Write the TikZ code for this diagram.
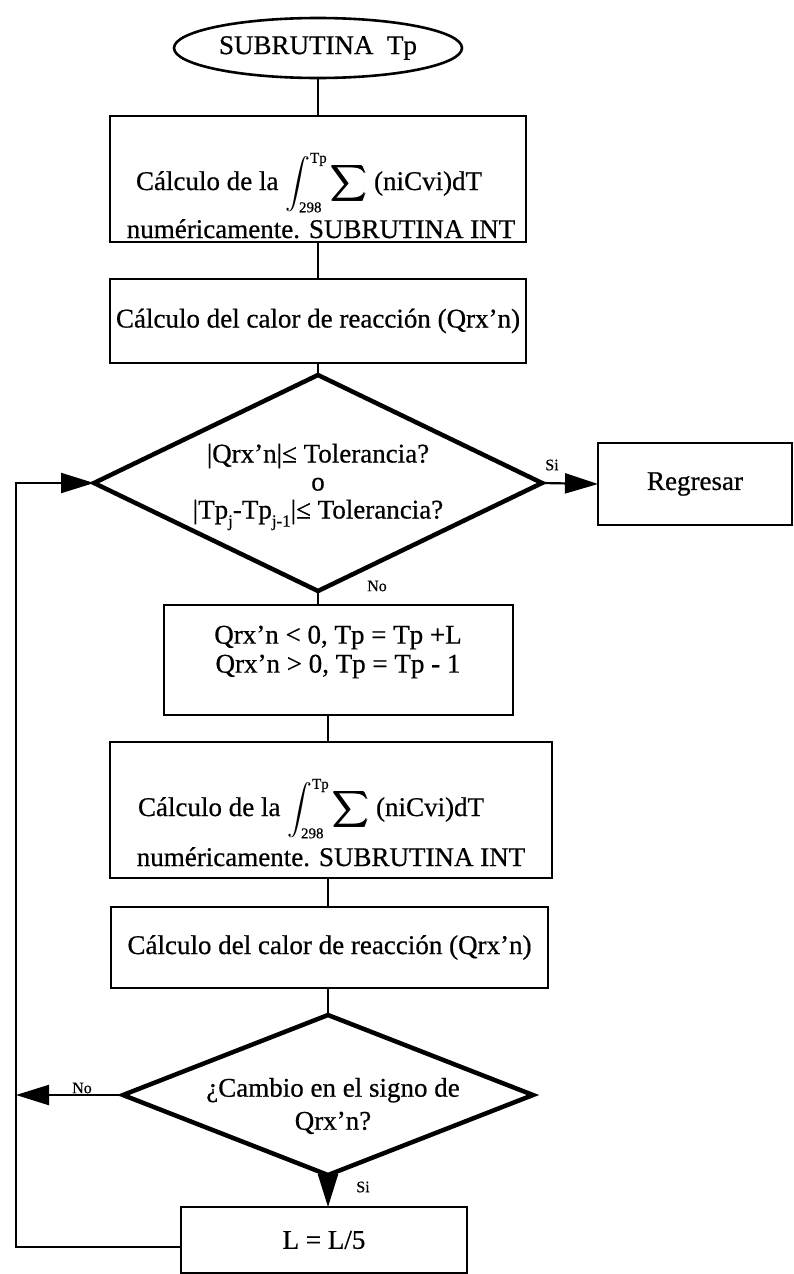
\documentclass[tikz,border=0pt]{standalone}
\usepackage{amsmath}
\usepackage{fontspec}
\setmainfont{Liberation Serif}[FakeBold=0.6]
\usetikzlibrary{shapes.geometric,arrows.meta}

% small text used for integral limits and subscripts
\newcommand\limtxt[1]{\text{\fontsize{15}{15}\selectfont #1}}
\newcommand\lowtxt[1]{\raisebox{-0.3em}{\fontsize{17}{17}\selectfont #1}}
% integral with summation, shared by both integration boxes
\newcommand\intsum{$\displaystyle\int_{\limtxt{298}}^{\limtxt{Tp}}\pmb{\sum}$}

\begin{document}
\begin{tikzpicture}[x=1pt,y=-1pt,
  every node/.style={font=\fontsize{27}{29}\selectfont, inner sep=0pt, outer sep=0pt},
  box/.style={draw, rectangle, line width=2.6pt},
  decision/.style={draw, diamond, line width=4.5pt},
  conn/.style={line width=2.2pt},
  arr/.style={conn, -{Triangle[length=33pt,width=20pt]}},
  lbl/.style={font=\fontsize{16}{16}\selectfont},
  txt/.style={align=center}
]
\fill[white] (0,0) rectangle (794,1274);
\useasboundingbox (0,0) rectangle (794,1274);

% start
\node[draw, ellipse, line width=2.6pt, minimum width=288pt, minimum height=60pt] (start) at (318,48) {SUBRUTINA~~Tp};

% first integral
\node[box, minimum width=416pt, minimum height=126pt] (b1) at (318,179) {};
\node[anchor=base west] (b1a) at (136,190) {Cálculo de la \intsum{} (niCvi)dT};
\node[anchor=base] (b1b) at (321,238) {numéricamente. SUBRUTINA INT};

% heat of reaction
\node[box, minimum width=416pt, minimum height=84pt] (b2) at (318,321) {Cálculo del calor de reacción (Qrx’n)};

% tolerance test
\node[decision, minimum width=448pt, minimum height=216pt] (d1) at (318,483) {};
\node[txt, font=\fontsize{27}{28}\selectfont] (d1t) at (318,487) {|Qrx’n|≤ Tolerancia?\\o\\|Tp\lowtxt{j}-Tp\lowtxt{j-1}|≤ Tolerancia?};
\node[box, minimum width=194pt, minimum height=82pt] (reg) at (695,484) {Regresar};
\node[lbl] (si1) at (552,465) {Si};
\node[lbl] (no1) at (377,586) {No};

% temperature update
\node[box, minimum width=349pt, minimum height=110pt] (b3) at (338.5,660) {};
\node[txt] (b3t) at (338,652) {Qrx’n < 0, Tp = Tp +L\\Qrx’n > 0, Tp = Tp - 1};

% second integral
\node[box, minimum width=442pt, minimum height=136pt] (b4) at (331,810) {};
\node[anchor=base west] (b4a) at (138,816) {Cálculo de la \intsum{} (niCvi)dT};
\node[anchor=base] (b4b) at (331,866) {numéricamente. SUBRUTINA INT};

% heat of reaction again
\node[box, minimum width=437pt, minimum height=81pt] (b5) at (329.5,947.5) {Cálculo del calor de reacción (Qrx’n)};

% sign change test
\node[decision, minimum width=410pt, minimum height=160pt] (d2) at (328,1095) {};
\node[txt, font=\fontsize{27}{33}\selectfont] (d2t) at (333,1106) {¿Cambio en el signo de\\Qrx’n?};
\node[lbl] (no2) at (82,1088) {No};
\node[lbl] (si2) at (363,1187) {Si};

% step reduction
\node[box, minimum width=286pt, minimum height=66pt] (bl) at (324,1240) {L = L/5};

\coordinate (loopb) at (16,1247);
\coordinate (loopn) at (16,1095);

% connectors
\draw[conn] (start.south) -- (b1.north);
\draw[conn] (b1.south) -- (b2.north);
\draw[conn] (b2.south) -- (d1.north);
\draw[arr] (d1.east) -- (reg.west);
\draw[conn] (d1.south) -- (d1.south |- b3.north);
\draw[conn] (b3.south -| d2.north) -- (b4.north -| d2.north);
\draw[conn] (b4.south -| d2.north) -- (b5.north -| d2.north);
\draw[conn] (b5.south -| d2.north) -- (d2.north);
\draw[arr] (d2.west) -- (loopn);
\draw[arr] (d2.south) -- (d2.south |- bl.north);
\draw[arr] (bl.west |- loopb) -- (loopb) |- (d1.west);
\end{tikzpicture}
\end{document}
